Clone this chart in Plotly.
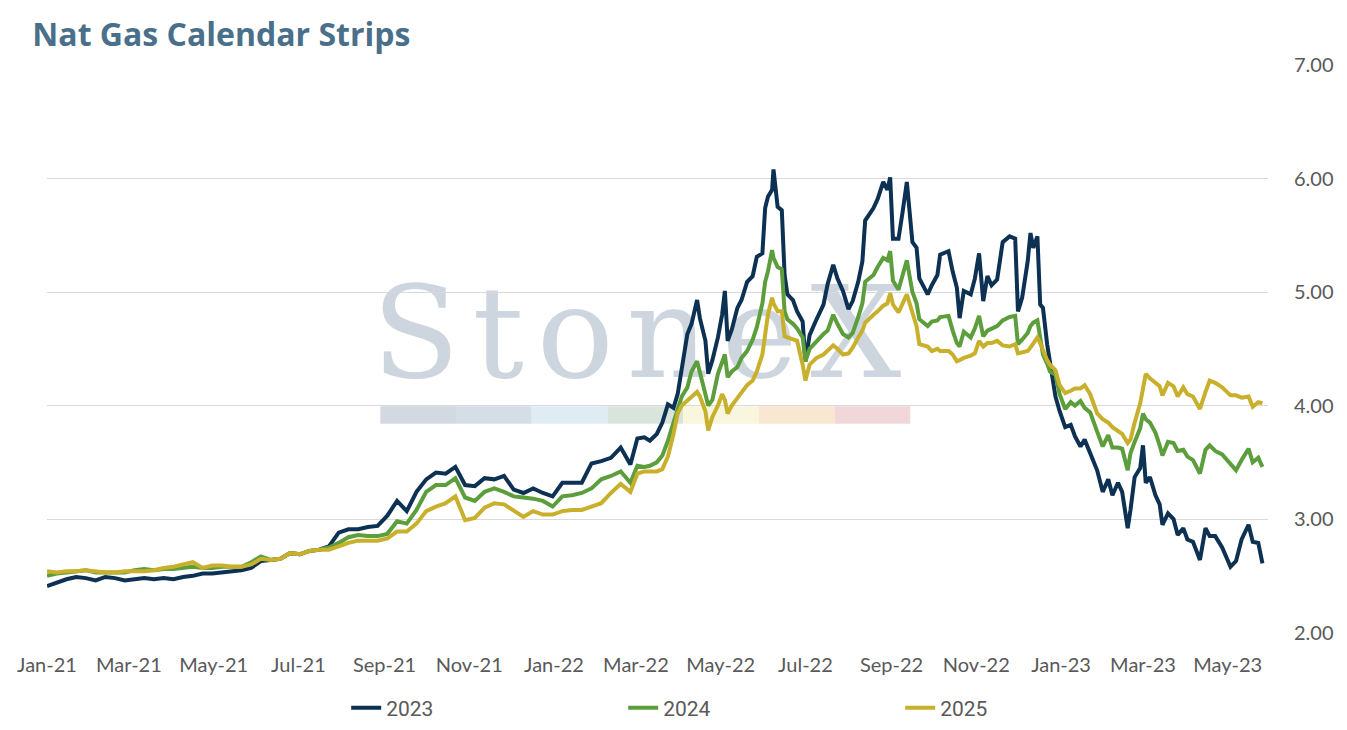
import plotly.graph_objects as go

# strip settlement prices ($/MMBtu)
dates = [
    "2021-01-01", "2021-01-08", "2021-01-15", "2021-01-22", "2021-01-29", "2021-02-05", "2021-02-12",
    "2021-02-19", "2021-02-26", "2021-03-05", "2021-03-12", "2021-03-19", "2021-03-26", "2021-04-02",
    "2021-04-09", "2021-04-16", "2021-04-23", "2021-04-30", "2021-05-07", "2021-05-14", "2021-05-21",
    "2021-05-28", "2021-06-04", "2021-06-11", "2021-06-18", "2021-06-25", "2021-07-02", "2021-07-09",
    "2021-07-16", "2021-07-23", "2021-07-30", "2021-08-06", "2021-08-13", "2021-08-20", "2021-08-27",
    "2021-09-03", "2021-09-10", "2021-09-17", "2021-09-24", "2021-10-01", "2021-10-08", "2021-10-15",
    "2021-10-22", "2021-10-29", "2021-11-05", "2021-11-12", "2021-11-19", "2021-11-26", "2021-12-03",
    "2021-12-10", "2021-12-17", "2021-12-24", "2021-12-31", "2022-01-07", "2022-01-14", "2022-01-21",
    "2022-01-28", "2022-02-04", "2022-02-11", "2022-02-18", "2022-02-25",
    "2022-03-02", "2022-03-07", "2022-03-11", "2022-03-16", "2022-03-20", "2022-03-24", "2022-03-28",
    "2022-03-31", "2022-04-03", "2022-04-07", "2022-04-10", "2022-04-14", "2022-04-16", "2022-04-20",
    "2022-04-22", "2022-04-25", "2022-04-29", "2022-05-02", "2022-05-04", "2022-05-06", "2022-05-09",
    "2022-05-13", "2022-05-16", "2022-05-20", "2022-05-24", "2022-05-27", "2022-05-31", "2022-06-02",
    "2022-06-04", "2022-06-07", "2022-06-08", "2022-06-11", "2022-06-14", "2022-06-16", "2022-06-18",
    "2022-06-22", "2022-06-25", "2022-06-29", "2022-07-01", "2022-07-04", "2022-07-09", "2022-07-14",
    "2022-07-17", "2022-07-21", "2022-07-24", "2022-07-28", "2022-08-01", "2022-08-04", "2022-08-08",
    "2022-08-11", "2022-08-13", "2022-08-16", "2022-08-19", "2022-08-22", "2022-08-26", "2022-08-29",
    "2022-08-31", "2022-09-02", "2022-09-06", "2022-09-09", "2022-09-12", "2022-09-16", "2022-09-19",
    "2022-09-21", "2022-09-27", "2022-09-30", "2022-10-04", "2022-10-06", "2022-10-12", "2022-10-15",
    "2022-10-18", "2022-10-20", "2022-10-23", "2022-10-28", "2022-10-31", "2022-11-03", "2022-11-06",
    "2022-11-09", "2022-11-12", "2022-11-16", "2022-11-20", "2022-11-25", "2022-11-29", "2022-12-01",
    "2022-12-04", "2022-12-08", "2022-12-10", "2022-12-12", "2022-12-15", "2022-12-17", "2022-12-19",
    "2022-12-22", "2022-12-24", "2022-12-28", "2022-12-31", "2023-01-04", "2023-01-08", "2023-01-11",
    "2023-01-15", "2023-01-18", "2023-01-22", "2023-01-27", "2023-01-31", "2023-02-04", "2023-02-07",
    "2023-02-11", "2023-02-14", "2023-02-18", "2023-02-20", "2023-02-23", "2023-02-27", "2023-03-01",
    "2023-03-03", "2023-03-06", "2023-03-10", "2023-03-13", "2023-03-15", "2023-03-19", "2023-03-23",
    "2023-03-26", "2023-03-30", "2023-04-02", "2023-04-06", "2023-04-11", "2023-04-15", "2023-04-18",
    "2023-04-22", "2023-04-27", "2023-05-03", "2023-05-07", "2023-05-11", "2023-05-16", "2023-05-19",
    "2023-05-23", "2023-05-26",
]

strip_2023 = [
    2.41, 2.44, 2.47, 2.49, 2.48, 2.46, 2.49, 2.48, 2.46, 2.47, 2.48, 2.47, 2.48, 2.47,
    2.49, 2.50, 2.52, 2.52, 2.53, 2.54, 2.55, 2.57, 2.63, 2.64, 2.65, 2.70, 2.69, 2.72,
    2.73, 2.76, 2.88, 2.91, 2.91, 2.93, 2.94,
    3.03, 3.16, 3.07, 3.24, 3.35, 3.41, 3.40, 3.46, 3.30, 3.29, 3.36, 3.35, 3.38, 3.26,
    3.23, 3.27, 3.23, 3.20, 3.32, 3.32, 3.32, 3.49, 3.51, 3.54, 3.63, 3.48,
    3.71, 3.72, 3.69, 3.75, 3.85, 4.01, 3.98, 4.10, 4.35, 4.63, 4.72, 4.93, 4.77, 4.57,
    4.28, 4.40, 4.60, 4.80, 5.01, 4.57, 4.67, 4.86, 4.93, 5.09, 5.14, 5.31, 5.34, 5.74,
    5.84, 5.90, 6.08, 5.75, 5.72, 5.15, 4.98, 4.93, 4.83, 4.74, 4.39, 4.62, 4.76, 4.89,
    5.07, 5.24, 5.12, 5.01, 4.85, 4.92, 5.09, 5.27, 5.63, 5.68, 5.74, 5.82, 5.97, 5.90,
    6.01, 5.47, 5.47, 5.71, 5.97, 5.44, 5.39, 5.12, 4.98, 5.06, 5.15, 5.33, 5.36, 5.18,
    5.04, 4.77, 5.01, 4.98, 5.12, 5.34, 4.92, 5.14, 5.06, 5.11, 5.44, 5.49, 5.47, 4.83,
    4.95, 5.27, 5.52, 5.39, 5.49, 4.89, 4.86, 4.54, 4.39, 4.08, 3.95, 3.81, 3.83, 3.73,
    3.64, 3.70, 3.58, 3.43, 3.24, 3.35, 3.21, 3.32, 3.24, 2.92, 3.08, 3.37, 3.45, 3.65,
    3.32, 3.37, 3.21, 3.13, 2.95, 3.05, 3.00, 2.86, 2.92, 2.82, 2.80, 2.64, 2.92, 2.85,
    2.85, 2.75, 2.58, 2.63, 2.82, 2.95, 2.80, 2.79, 2.61,
]

strip_2024 = [
    2.50, 2.52, 2.53, 2.54, 2.55, 2.53, 2.53, 2.53, 2.53, 2.55, 2.56, 2.55, 2.56, 2.56,
    2.57, 2.58, 2.57, 2.57, 2.58, 2.58, 2.58, 2.62, 2.67, 2.64, 2.65, 2.70, 2.69, 2.72,
    2.73, 2.75, 2.79, 2.84, 2.86, 2.85, 2.85,
    2.87, 2.98, 2.96, 3.08, 3.24, 3.30, 3.30, 3.36, 3.19, 3.16, 3.24, 3.27, 3.24, 3.20,
    3.19, 3.18, 3.16, 3.11, 3.20, 3.21, 3.23, 3.27, 3.35, 3.38, 3.42, 3.32,
    3.47, 3.46, 3.47, 3.50, 3.56, 3.69, 3.85, 3.96, 4.08, 4.16, 4.30, 4.39, 4.28, 4.10,
    4.00, 4.05, 4.28, 4.40, 4.45, 4.25, 4.30, 4.34, 4.42, 4.48, 4.58, 4.69, 4.90, 5.09,
    5.18, 5.37, 5.30, 5.22, 5.20, 4.83, 4.76, 4.72, 4.68, 4.60, 4.39, 4.50, 4.57, 4.63,
    4.66, 4.80, 4.72, 4.63, 4.60, 4.64, 4.78, 4.90, 5.09, 5.12, 5.15, 5.22, 5.30, 5.28,
    5.36, 5.10, 5.02, 5.15, 5.28, 5.00, 4.90, 4.76, 4.70, 4.74, 4.75, 4.78, 4.79, 4.66,
    4.55, 4.52, 4.65, 4.60, 4.68, 4.79, 4.61, 4.66, 4.68, 4.70, 4.75, 4.78, 4.79, 4.54,
    4.58, 4.64, 4.70, 4.73, 4.75, 4.62, 4.45, 4.37, 4.30, 4.27, 4.10, 3.97, 4.03, 4.00,
    4.04, 3.98, 3.94, 3.77, 3.64, 3.74, 3.63, 3.63, 3.62, 3.43, 3.58, 3.68, 3.80, 3.93,
    3.88, 3.85, 3.76, 3.65, 3.56, 3.68, 3.67, 3.60, 3.61, 3.55, 3.52, 3.40, 3.61, 3.65,
    3.60, 3.57, 3.48, 3.43, 3.52, 3.62, 3.50, 3.54, 3.46,
]

strip_2025 = [
    2.54, 2.53, 2.54, 2.54, 2.55, 2.54, 2.53, 2.53, 2.54, 2.54, 2.54, 2.55, 2.57, 2.58,
    2.60, 2.62, 2.57, 2.59, 2.59, 2.58, 2.58, 2.60, 2.65, 2.64, 2.65, 2.70, 2.69, 2.72,
    2.73, 2.73, 2.76, 2.79, 2.81, 2.81, 2.81,
    2.83, 2.89, 2.89, 2.96, 3.07, 3.11, 3.14, 3.20, 2.99, 3.01, 3.10, 3.14, 3.13, 3.08,
    3.02, 3.07, 3.04, 3.04, 3.07, 3.08, 3.08, 3.11, 3.14, 3.23, 3.31, 3.24,
    3.40, 3.42, 3.42, 3.42, 3.44, 3.55, 3.75, 3.93, 4.00, 4.04, 4.08, 4.12, 4.08, 3.95,
    3.78, 3.90, 4.00, 4.10, 4.05, 3.93, 4.00, 4.07, 4.12, 4.18, 4.22, 4.30, 4.45, 4.63,
    4.80, 4.95, 4.90, 4.83, 4.83, 4.61, 4.60, 4.58, 4.57, 4.36, 4.22, 4.36, 4.42, 4.45,
    4.48, 4.53, 4.50, 4.45, 4.46, 4.51, 4.60, 4.66, 4.73, 4.77, 4.80, 4.83, 4.88, 4.90,
    4.99, 4.89, 4.82, 4.90, 4.98, 4.82, 4.70, 4.54, 4.52, 4.48, 4.50, 4.48, 4.48, 4.45,
    4.39, 4.40, 4.42, 4.44, 4.46, 4.57, 4.52, 4.55, 4.55, 4.57, 4.53, 4.52, 4.54, 4.46,
    4.47, 4.48, 4.51, 4.55, 4.60, 4.55, 4.48, 4.40, 4.36, 4.31, 4.18, 4.11, 4.13, 4.15,
    4.15, 4.18, 4.10, 3.93, 3.88, 3.85, 3.81, 3.78, 3.75, 3.67, 3.70, 3.85, 4.02, 4.15,
    4.28, 4.24, 4.20, 4.17, 4.09, 4.20, 4.17, 4.08, 4.16, 4.10, 4.08, 3.97, 4.12, 4.22,
    4.20, 4.16, 4.09, 4.09, 4.07, 4.08, 3.99, 4.03, 4.02,
]

series_names = ["2023", "2024", "2025"]
series_colors = ["#0c3153", "#5b9e3b", "#c8b02c"]
band_colors = ["#d3d9e0", "#d5dde7", "#e0ecf4", "#d8e4dc", "#f8f6dd", "#f9e7d1", "#f1d7d7"]

fig = go.Figure()
for name, vals, col in zip(series_names, [strip_2023, strip_2024, strip_2025], series_colors):
    fig.add_trace(go.Scatter(x=dates, y=vals, name=name, mode="lines",
                             line=dict(color=col, width=4)))

# faint StoneX watermark behind the lines (hair spaces widen the lettering)
shapes = [dict(type="rect", xref="paper", yref="paper", x0=0.253, x1=0.713, y0=0.43, y1=0.66,
               line=dict(width=0), fillcolor="rgba(0,0,0,0)", layer="below",
               label=dict(text="S\u200at\u200ao\u200an\u200ae\u200aX", textposition="middle center",
                          font=dict(family="DejaVu Serif", size=128, color="#cdd5de")))]
for i, c in enumerate(band_colors):
    shapes.append(dict(type="rect", xref="paper", yref="paper",
                       x0=0.273 + i * 0.062, x1=0.273 + (i + 1) * 0.062, y0=0.368, y1=0.399,
                       line=dict(width=0), fillcolor=c, layer="below"))

fig.update_layout(
    width=1347, height=730,
    paper_bgcolor="white", plot_bgcolor="white",
    margin=dict(l=47, r=79, t=65, b=93),
    font=dict(family="Lato", color="#595959"),
    title=dict(text="<b>Nat Gas Calendar Strips</b>", xref="container", yref="container",
               x=0.024, xanchor="left", y=0.952, yanchor="middle",
               font=dict(family="Open Sans", size=32, color="#4a6f8a")),
    shapes=shapes,
    showlegend=True,
    legend=dict(orientation="h", xref="container", yref="container", x=0.257, xanchor="left",
                y=0.03, yanchor="middle", entrywidth=232, entrywidthmode="pixels",
                font=dict(family="Liberation Sans Narrow, Roboto, sans-serif", size=21,
                          color="#595959")),
    xaxis=dict(type="date", range=["2021-01-01", "2023-05-30"], dtick="M2", tick0="2021-01-01",
               tickformat="%b-%y", showgrid=False, zeroline=False, showline=False,
               ticks="outside", ticklen=14, tickcolor="rgba(0,0,0,0)",
               tickfont=dict(size=20, color="#595959")),
    yaxis=dict(side="right", range=[2, 7], dtick=1, tickformat=".2f", showgrid=True,
               gridcolor="#d9d9d9", gridwidth=1.3, zeroline=False, showline=False,
               ticks="", ticklabelstandoff=25,
               tickfont=dict(size=20, color="#595959")),
)

fig.write_html("out.html", config={"displayModeBar": False},
               post_script="document.body.style.margin = '0';")
